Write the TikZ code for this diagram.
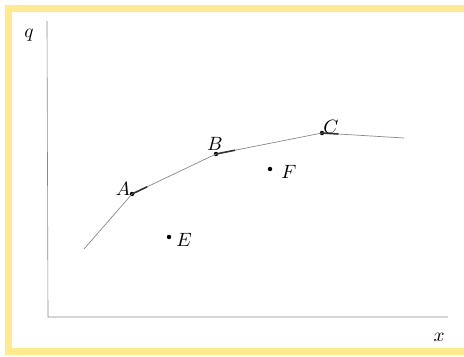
\documentclass[tikz,border=0pt]{standalone}
\usepackage{tikz}
\usetikzlibrary{calc}
\definecolor{frameyellow}{HTML}{FFEA8C}
\definecolor{linegray}{HTML}{8A8A8A}
\begin{document}
\begin{tikzpicture}[x=0.02cm, y=-0.02cm, font=\fontsize{11}{13}\selectfont]
                % Draw the frame
                \useasboundingbox (0,0) rectangle (464,356);
                \fill[frameyellow] (5,5) rectangle (464,355);
                \fill[white] (12,12) rectangle (464,348);

                % Draw the axes
                \coordinate (o) at (48,317);
                \coordinate (ytop) at (47,21);
                \coordinate (xend) at (448,317);
                \draw[linegray, line width=0.35pt] (ytop) -- (o) -- (xend);
                \node (q) at (29,35) {$q$};
                \node (x) at (439,337) {$x$};

                % Draw the frontier points
                \node[fill=black, circle, inner sep=0.9pt] (A) at (132,194) {};
                \node[fill=black, circle, inner sep=0.9pt] (B) at (216,154) {};
                \node[fill=black, circle, inner sep=0.9pt] (C) at (322,133) {};
                \coordinate (s) at (84,249);
                \coordinate (t) at (404,138);

                % Draw the points below the frontier
                \node[fill=black, circle, inner sep=0.9pt] (E) at (169,237) {};
                \node[fill=black, circle, inner sep=0.9pt] (F) at (270,169) {};

                % Draw the frontier
                \draw[linegray, line width=0.4pt] (s) -- (A.center) -- (B.center) -- (C.center) -- (t);

                % Draw the short pieces after A, B and C
                \draw[line width=0.9pt, black!80] (A.center) -- ($(A.center)!0.18!(B.center)$);
                \draw[line width=0.9pt, black!80] (B.center) -- ($(B.center)!0.18!(C.center)$);
                \draw[line width=0.9pt, black!80] (C.center) -- ($(C.center)!0.2!(t)$);

                % Draw the labels
                \node (lA) at (123,189) {$A$};
                \node (lB) at (215,144) {$B$};
                \node (lC) at (331,127) {$C$};
                \node (lE) at (184,240) {$E$};
                \node (lF) at (289,172) {$F$};
\end{tikzpicture}
\end{document}
